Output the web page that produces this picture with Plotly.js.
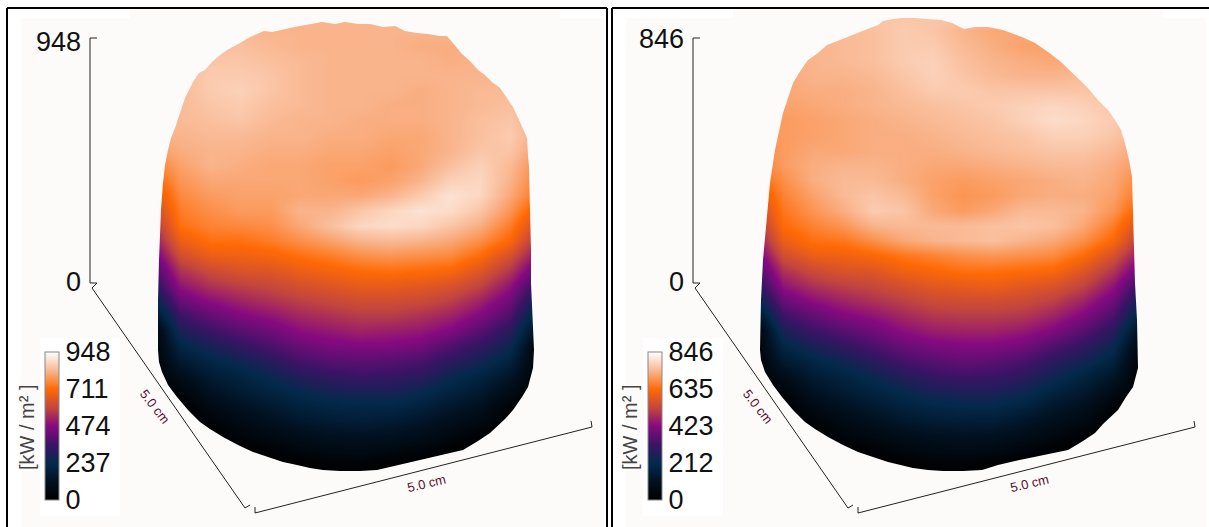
<!DOCTYPE html>
<html><head><meta charset="utf-8">
<script src="https://cdn.plot.ly/plotly-3.0.1.min.js"></script>
<style>html,body{margin:0;padding:0;background:#fff}#c{width:1209px;height:527px}</style>
</head><body><div id="c"></div>
<script>
// Column / row positions of the sampled surface (picture units inside a panel)
var gridX=[150,180,210,240,270,300,330,360,390,420,450,480,510,540];
var gridY=[15,30,45,60,75,90,105,120,135,150,165,180,195,210,225,240,255,270,285,300,315,330,345,360,375,390,405,420,435,450,465,480];
var maxLeft=948, maxRight=846;
var ticksLeft=[0,237,474,711,948], ticksRight=[0,212,423,635,846];
// Heat flux, in percent of each panel's scale maximum
var fluxLeft=[
[87,87,87,87,87,87,87,87,87,87,87,87,87,87],
[86,87,88,88,87,87,87,87,87,87,87,87,86,85],
[86,88,89,89,88,87,87,87,87,86,86,86,86,85],
[86,88,90,90,89,88,87,87,87,87,86,87,86,85],
[86,88,91,91,90,88,87,87,87,87,87,87,87,85],
[86,88,91,92,90,88,87,87,87,86,87,88,88,85],
[86,88,90,91,89,88,87,87,86,86,87,88,89,86],
[87,88,89,90,88,87,87,86,86,86,87,89,90,86],
[87,87,88,88,87,87,86,86,85,85,87,89,91,85],
[83,86,87,87,86,86,85,85,84,85,87,90,90,83],
[78,84,87,86,85,85,84,84,83,85,89,92,88,80],
[73,82,85,85,85,85,84,83,84,87,92,93,87,78],
[67,80,83,84,84,85,85,85,87,91,95,93,85,76],
[62,78,81,83,83,87,87,90,93,95,94,90,82,70],
[56,76,79,80,81,85,89,93,94,93,90,86,78,64],
[50,71,76,76,78,81,84,87,88,87,85,81,74,57],
[43,65,71,72,73,76,78,81,82,81,80,75,66,50],
[36,58,64,67,68,71,73,75,76,75,74,68,59,42],
[30,52,58,61,63,66,68,70,70,69,67,62,52,33],
[21,45,51,55,58,61,63,65,65,64,61,55,46,25],
[11,37,44,49,52,56,58,60,60,58,55,49,40,17],
[0,30,37,42,46,51,53,55,54,53,49,42,33,10],
[0,23,30,35,40,45,48,49,49,47,41,35,27,2],
[0,17,23,28,33,39,42,43,42,40,34,29,21,0],
[0,10,18,22,27,32,35,37,36,34,27,22,15,0],
[0,4,13,18,22,26,29,30,30,27,22,17,9,0],
[0,0,8,13,17,21,23,24,24,21,16,12,3,0],
[0,0,3,8,12,16,18,19,18,15,11,7,0,0],
[0,0,0,4,7,10,12,13,12,10,6,2,0,0],
[0,0,0,0,2,5,7,8,6,4,1,0,0,0],
[0,0,0,0,0,0,2,2,0,0,0,0,0,0],
[0,0,0,0,0,0,0,0,0,0,0,0,0,0]];
var fluxRight=[
[90,90,90,90,90,90,90,90,90,90,90,90,90,90],
[85,86,87,88,89,91,90,87,85,85,85,85,85,85],
[85,86,87,88,89,91,91,88,86,84,84,85,85,85],
[85,86,87,88,89,91,92,89,87,86,85,86,86,85],
[85,85,87,87,88,90,92,90,88,87,87,88,88,85],
[84,85,86,86,87,89,91,91,90,90,90,90,89,85],
[84,84,85,86,87,88,89,90,91,92,93,92,90,86],
[83,83,84,85,86,87,88,89,90,92,94,93,91,86],
[82,83,84,85,86,86,87,88,89,90,92,92,90,86],
[80,83,85,85,86,86,86,87,88,89,90,90,88,84],
[77,83,86,87,87,86,85,85,86,87,88,88,86,82],
[73,81,86,88,88,86,84,83,84,85,86,87,85,79],
[67,79,84,88,90,88,84,82,83,85,86,86,84,76],
[62,77,82,86,91,90,85,83,85,88,88,87,82,71],
[56,75,79,82,87,88,88,88,89,90,89,85,78,65],
[50,71,76,77,81,85,87,88,89,87,85,81,74,58],
[43,65,71,72,74,77,79,81,82,81,80,75,66,51],
[36,58,64,67,68,72,74,76,76,75,74,68,59,43],
[30,52,58,61,63,66,69,70,71,69,67,62,52,34],
[21,45,51,55,58,61,64,65,65,64,61,55,46,26],
[11,37,44,49,52,56,59,60,60,59,55,49,40,18],
[0,30,37,42,46,51,54,55,55,53,49,42,33,10],
[0,23,30,35,40,45,48,49,49,47,41,35,27,2],
[0,17,23,28,33,39,42,44,43,40,34,29,21,0],
[0,10,18,22,27,32,36,38,37,34,28,22,15,0],
[0,4,13,18,22,26,30,31,31,28,22,17,9,0],
[0,0,8,13,17,21,24,25,25,22,16,12,3,0],
[0,0,3,8,12,16,18,19,19,15,11,7,0,0],
[0,0,0,4,7,10,12,13,12,10,6,2,0,0],
[0,0,0,0,2,5,7,8,7,4,1,0,0,0],
[0,0,0,0,0,0,2,2,0,0,0,0,0,0],
[0,0,0,0,0,0,0,0,0,0,0,0,0,0]];
// Outlines of the two bodies
var outlineLeftX=[158,158,159,160,161,163,165,168,171,175,180,185,189,193,199,205,212,220,227,233,240,250,258,264,272,280,290,300,310,322,335,345,358,370,383,395,405,417,428,440,447,455,462,470,478,485,492,500,507,513,520,527,528,529,530,531,531,533,534,533,528,522,513,505,497,490,478,470,463,450,437,423,410,398,388,377,360,340,323,310,297,283,268,253,238,223,210,200,188,177,168,162,159,158];
var outlineLeftY=[350,300,260,237,210,183,165,150,138,128,113,98,90,82,73,70,62,55,50,47,43,37,34,31,32,30,28,26,24,22,24,22,24,24,27,26,31,33,34,36,36,46,54,61,70,75,82,88,98,107,122,138,155,167,210,250,283,320,350,368,387,397,410,419,427,433,441,446,450,453,456,459,462,465,467,470,471,471,470,468,465,462,457,452,445,437,429,422,410,397,385,372,362,350];
var outlineRightX=[157,158,160,162,165,167,172,180,185,190,198,205,215,224,237,249,262,275,280,290,299,312,325,338,349,355,361,372,385,400,419,432,445,458,472,484,495,505,512,518,522,526,529,530,531,532,534,535,535,530,523,515,500,492,480,465,450,430,412,395,379,360,340,325,310,285,270,255,240,225,212,202,190,179,170,162,158,157];
var outlineRightY=[350,300,260,237,205,183,150,113,98,83,70,60,53,45,40,35,30,25,21,19,18,18,19,20,23,26,29,27,27,30,37,43,52,62,75,87,100,110,120,130,143,160,177,210,250,283,320,350,368,387,397,410,424,433,441,450,453,457,461,465,470,471,471,470,468,462,457,452,445,437,429,422,410,397,385,372,360,350];
// Mask rectangle around the body
var maskX=[130,130,560,560,130], maskY=[9,500,500,9,9];
// Axes frame of the 3D view
var heightAxisX=[97,90,90,97,92,245,250], heightAxisY=[38,38,283,283,288,508,505];
var floorAxisX=[255,255,592,591], floorAxisY=[507,513,427,421];

var colors=[[0,'#000000'],[0.12,'#01101f'],[0.25,'#032a4c'],[0.37,'#3a1466'],[0.5,'#860a80'],[0.62,'#c2453f'],[0.75,'#ff6a05'],[0.87,'#f9b48c'],[1,'#ffffff']];
var bg='#fcfbfa', ink='#111111', labelInk='#5a1030', font='"Liberation Sans",Arial,sans-serif';

function scale(rows,m){return rows.map(function(r){return r.map(function(v){return v*m/100;});});}
function panel(xa,ya,flux,maxV,ticks,oX,oY,cbX){
  return [
   {type:'heatmap',x:gridX,y:gridY,z:scale(flux,maxV),xaxis:xa,yaxis:ya,zsmooth:'best',zmin:0,zmax:maxV,colorscale:colors,hoverinfo:'skip',
    colorbar:{x:cbX,xanchor:'left',y:27/527,yanchor:'bottom',thickness:14,thicknessmode:'pixels',len:148,lenmode:'pixels',xpad:0,ypad:0,
      outlinewidth:1,outlinecolor:'#888',tickmode:'array',tickvals:ticks,ticktext:ticks.map(String),ticks:'',
      tickfont:{family:font,size:27,color:ink}}},
   {type:'scatter',mode:'lines',x:maskX.concat([null],oX),y:maskY.concat([null],oY),xaxis:xa,yaxis:ya,fill:'toself',fillcolor:bg,line:{width:0,color:bg},hoverinfo:'skip',showlegend:false},
   {type:'scatter',mode:'lines',x:heightAxisX,y:heightAxisY,xaxis:xa,yaxis:ya,line:{width:1,color:'#222'},hoverinfo:'skip',showlegend:false},
   {type:'scatter',mode:'lines',x:floorAxisX,y:floorAxisY,xaxis:xa,yaxis:ya,line:{width:1,color:'#222'},hoverinfo:'skip',showlegend:false}
  ];
}
function notes(xr,yr,maxV){
  function a(t,x,y,o){return Object.assign({text:t,x:x,y:y,xref:xr,yref:yr,showarrow:false},o);}
  var big={family:font,size:27,color:ink};
  return [
   a(String(maxV),83,xr==='x'?42:39,{xanchor:'right',font:big}),
   a('0',83,282,{xanchor:'right',font:big}),
   a('[kW / m² ]',27,427,{textangle:-90,font:{family:font,size:20,color:'#444'}}),
   a('5.0 cm',155,406,{textangle:52,font:{family:font,size:13,color:labelInk}}),
   a('5.0 cm',426,483,{textangle:-13,font:{family:font,size:13,color:labelInk}})
  ];
}
function panelShapes(xr,yr,left,right,hasRight){
  function s(o){return Object.assign({xref:xr,yref:yr},o);}
  var frame={color:'#000',width:2};
  var out=[
   s({type:'rect',layer:'below',x0:left+14,x1:right-3,y0:18,y1:527,fillcolor:bg,line:{width:0}}),
   s({type:'rect',layer:'below',x0:40,x1:120,y0:338,y1:516,fillcolor:'#ffffff',line:{width:0}}),
   s({type:'line',x0:left,x1:left,y0:8,y1:527,line:frame}),
   s({type:'line',x0:left,x1:right,y0:8,y1:8,line:frame})
  ];
  if(hasRight) out.push(s({type:'line',x0:right,x1:right,y0:8,y1:527,line:frame}));
  return out;
}
var split=609.5/1209;
var hidden={visible:false,fixedrange:true};
var layout={width:1209,height:527,margin:{l:0,r:0,t:0,b:0,autoexpand:false},paper_bgcolor:'#fff',plot_bgcolor:'#fff',showlegend:false,
  xaxis:Object.assign({domain:[0,split],range:[0,609.5]},hidden),
  yaxis:Object.assign({domain:[0,1],range:[527,0]},hidden),
  xaxis2:Object.assign({domain:[split,1],range:[6.5,606]},hidden),
  yaxis2:Object.assign({domain:[0,1],range:[527,0]},hidden),
  shapes:panelShapes('x','y',7,607,true).concat(panelShapes('x2','y2',9,606,false)),
  annotations:notes('x','y',maxLeft).concat(notes('x2','y2',maxRight))
};
var data=panel('x','y',fluxLeft,maxLeft,ticksLeft,outlineLeftX,outlineLeftY,45/1209)
  .concat(panel('x2','y2',fluxRight,maxRight,ticksRight,outlineRightX,outlineRightY,648/1209));
Plotly.newPlot('c',data,layout,{displayModeBar:false,responsive:false});
</script></body></html>
